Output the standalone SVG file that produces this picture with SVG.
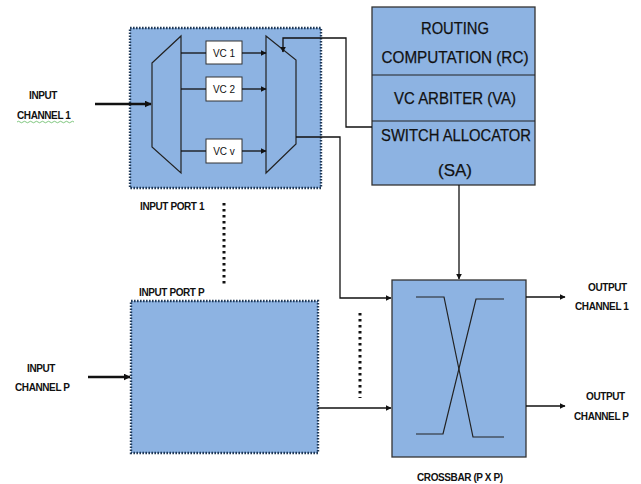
<svg xmlns="http://www.w3.org/2000/svg" width="641" height="484" viewBox="0 0 641 484">
<style>
.port{fill:#8db3e2;stroke:#1f3856;stroke-width:2.4;stroke-dasharray:1.6 1.4}
.blk{fill:#8db3e2;stroke:#333;stroke-width:1.3}
.sh{fill:none;stroke:#222;stroke-width:1.2}
.vc{fill:#fff;stroke:#333;stroke-width:1}
.ln{fill:none;stroke:#111;stroke-width:1.3}
.thick{fill:none;stroke:#111;stroke-width:2.6}
.dots{fill:none;stroke:#111;stroke-width:3;stroke-dasharray:2.5 3.5}
.lbl{font-family:"Liberation Sans",Arial,sans-serif;font-weight:bold;font-size:10px;fill:#111;letter-spacing:-0.4px}
.vct{font-family:"Liberation Sans",Arial,sans-serif;font-size:10px;fill:#111;text-anchor:middle}
.big{font-family:"Liberation Sans",Arial,sans-serif;font-size:17px;fill:#111;text-anchor:middle;stroke:#111;stroke-width:0.25}
</style>
<defs>
<marker id="ah" viewBox="0 0 10 10" refX="9" refY="5" markerWidth="7" markerHeight="7" markerUnits="userSpaceOnUse" orient="auto"><path d="M0,0 L10,5 L0,10 z" fill="#111"/></marker>
<marker id="ahs" viewBox="0 0 10 10" refX="9" refY="5" markerWidth="6" markerHeight="6" markerUnits="userSpaceOnUse" orient="auto"><path d="M0,0 L10,5 L0,10 z" fill="#111"/></marker>
</defs>
<g id="port1">
<rect class="port" x="130" y="28" width="191" height="160"/>
<polygon class="sh" points="152,63 181,36 181,173 152,147"/>
<polygon class="sh" points="266,36 296,60 296,144 266,173"/>
</g>
<g id="vc1"><rect class="vc" x="206" y="41" width="36" height="23"/><text class="vct" x="224" y="56.5">VC 1</text></g>
<g id="vc2"><rect class="vc" x="206" y="77" width="36" height="24"/><text class="vct" x="224" y="92.5">VC 2</text></g>
<g id="vcv"><rect class="vc" x="206" y="139" width="36" height="24"/><text class="vct" x="224" y="154.5">VC v</text></g>
<g id="portP">
<rect class="port" x="131" y="301" width="187" height="152"/>
</g>
<g id="alloc">
<rect class="blk" x="372" y="7" width="163" height="178"/>
<line class="sh" x1="372" y1="75" x2="535" y2="75"/>
<line class="sh" x1="372" y1="121" x2="535" y2="121"/>
<text class="big" x="455" y="34" textLength="68" lengthAdjust="spacingAndGlyphs">ROUTING</text>
<text class="big" x="455" y="63" textLength="147" lengthAdjust="spacingAndGlyphs">COMPUTATION (RC)</text>
<text class="big" x="455" y="104" textLength="122" lengthAdjust="spacingAndGlyphs">VC ARBITER (VA)</text>
<text class="big" x="456" y="141" textLength="150" lengthAdjust="spacingAndGlyphs">SWITCH ALLOCATOR</text>
<text class="big" x="455" y="176">(SA)</text>
</g>
<g id="crossbar">
<rect class="blk" x="392" y="280" width="134" height="177"/>
<polyline class="sh" points="416,297 444,297 473,437 504,437"/>
<polyline class="sh" points="416,434 443,434 476,299 504,299"/>
</g>
<g id="connectors">
<line class="thick" x1="95" y1="104" x2="151" y2="104" marker-end="url(#ah)"/>
<line class="thick" x1="88" y1="377" x2="130" y2="377" marker-end="url(#ah)"/>
<line class="ln" x1="181" y1="53" x2="206" y2="53"/>
<line class="ln" x1="181" y1="89" x2="206" y2="89"/>
<line class="ln" x1="181" y1="151" x2="206" y2="151"/>
<line class="ln" x1="242" y1="53" x2="266" y2="53" marker-end="url(#ahs)"/>
<line class="ln" x1="242" y1="89" x2="266" y2="89" marker-end="url(#ahs)"/>
<line class="ln" x1="242" y1="151" x2="266" y2="151" marker-end="url(#ahs)"/>
<polyline class="ln" points="372,127 346,127 346,38 283,38 283,52" marker-end="url(#ahs)"/>
<polyline class="ln" points="296,137 340,137 340,298 391,298" marker-end="url(#ahs)"/>
<line class="ln" x1="318" y1="408" x2="391" y2="408" marker-end="url(#ahs)"/>
<line class="ln" x1="459" y1="185" x2="459" y2="279" marker-end="url(#ahs)"/>
<line class="ln" x1="526" y1="297" x2="565" y2="297" marker-end="url(#ahs)"/>
<line class="ln" x1="526" y1="406" x2="565" y2="406" marker-end="url(#ahs)"/>
<line class="dots" x1="224" y1="203" x2="224" y2="287"/>
<line class="dots" x1="360" y1="313" x2="360" y2="398"/>
</g>
<g id="labels">
<text class="lbl" x="29" y="99">INPUT</text>
<text class="lbl" x="17" y="119">CHANNEL 1</text>
<path d="M17,122 q1.5,-1.5 3,0 t3,0 t3,0 t3,0 t3,0 t3,0 t3,0 t3,0 t3,0 t3,0 t3,0 t3,0 t3,0 t3,0 t3,0 t3,0 t3,0 t3,0 t3,0" fill="none" stroke="#5fb85f" stroke-width="0.8"/>
<text class="lbl" x="140" y="210">INPUT PORT 1</text>
<text class="lbl" x="139" y="296">INPUT PORT P</text>
<text class="lbl" x="27" y="372">INPUT</text>
<text class="lbl" x="15" y="391">CHANNEL P</text>
<text class="lbl" x="588" y="291">OUTPUT</text>
<text class="lbl" x="575" y="310">CHANNEL 1</text>
<text class="lbl" x="586" y="400">OUTPUT</text>
<text class="lbl" x="574" y="420">CHANNEL P</text>
<text class="lbl" x="417" y="481">CROSSBAR (P X P)</text>
</g>
</svg>
